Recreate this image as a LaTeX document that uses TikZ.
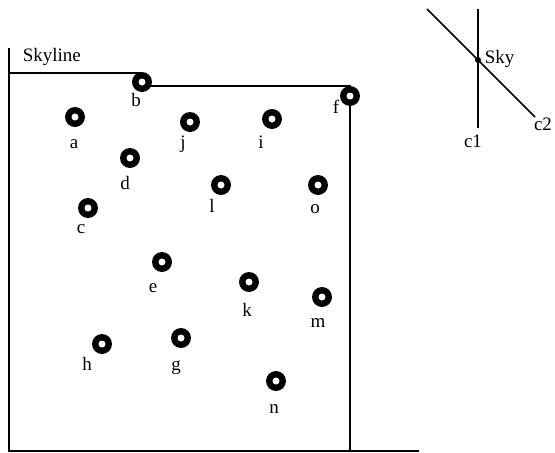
\documentclass[tikz,border=0pt]{standalone}
\usepackage{fontspec}
\setmainfont{Liberation Serif}
\usepackage{tikz}

\begin{document}
\begin{tikzpicture}[x=1pt, y=-1pt, line width=1.6pt,
  font=\fontsize{19}{22}\selectfont,
  pt/.style={circle, fill=black, minimum size=20pt, inner sep=0pt},
  ptlabel/.style={anchor=base, inner sep=0pt}]

  \useasboundingbox (0,0) rectangle (555,453);

  % 外框与天际线
  \draw (9,48) -- (9,451) -- (419,451);
  \draw (9,73) -- (142,73);
  \draw (142,86) -- (350,86) -- (350,451);
  \node[anchor=base west, inner sep=0pt] (skyline) at (22,61) {Skyline};

  % 点及其标注：名称/x/y/标注x/标注y
  \foreach \n/\x/\y/\lx/\ly in {a/75/117/74/148, b/142/82/136/106, j/190/122/183/148,
      i/272/119/261/148, f/350/96/336/113, d/130/158/125/189, l/221/185/212/212,
      o/318/185/315/213, c/88/208/81/233, e/162/262/153/292, k/249/282/247/316,
      m/322/297/318/327, h/102/344/87/370, g/181/338/176/370, n/276/381/274/413}{
    \node[pt] (\n) at (\x,\y) {};
    \fill[white] (\n) circle[radius=3.5pt];
    \node[ptlabel] (lab-\n) at (\lx,\ly) {\n};
  }

  % 右上角：两条直线交于 Sky
  \coordinate (c1top) at (478,9);
  \coordinate (c1bot) at (478,128);
  \coordinate (c2top) at (427,9);
  \coordinate (c2bot) at (535,117);
  \draw (c1top) -- (c1bot);
  \draw (c2top) -- (c2bot);
  \node[circle, fill=black, minimum size=6pt, inner sep=0pt] (sky) at (478,60) {};
  \node[anchor=base west, inner sep=0pt] (lab-sky) at (484,63) {Sky};
  \node[ptlabel] (lab-c1) at (473,147) {c1};
  \node[ptlabel] (lab-c2) at (543,130) {c2};

\end{tikzpicture}
\end{document}
